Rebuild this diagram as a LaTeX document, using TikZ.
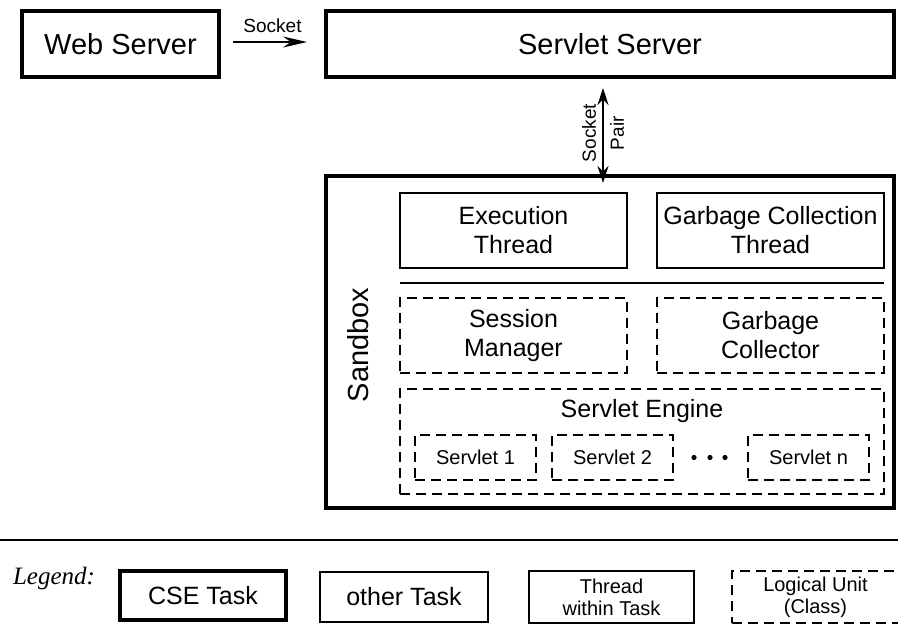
\documentclass[tikz,border=0pt]{standalone}
\usepackage{fontspec}
\setmainfont{Liberation Sans}
\newfontfamily\legendfont{Liberation Serif}
\usetikzlibrary{arrows.meta}

\begin{document}
\begin{tikzpicture}[x=1pt, y=-1pt,
    cse/.style={draw, rectangle, line width=4pt, align=center},
    othertask/.style={draw, rectangle, line width=2pt, align=center},
    thread/.style={draw, rectangle, line width=1.2pt, align=center},
    logical/.style={draw, rectangle, line width=1.2pt, dash pattern=on 10pt off 6pt, align=center},
    bigtext/.style={font=\fontsize{29}{34}\selectfont},
    midtext/.style={font=\fontsize{25}{29}\selectfont},
    smalltext/.style={font=\fontsize{20}{22}\selectfont},
    socktext/.style={font=\fontsize{19}{28}\selectfont},
  ]
  \useasboundingbox (0,0) rectangle (898,624);

  % Tasks
  \node[cse, bigtext, minimum width=197pt, minimum height=66pt] (web) at (120.5,44) {Web Server};
  \node[cse, bigtext, minimum width=568pt, minimum height=66pt] (server) at (610,44) {Servlet Server};
  \node[cse, minimum width=568pt, minimum height=332pt] (sandbox) at (610,342) {};
  \node[bigtext, rotate=90] (sandboxlabel) at (358,345) {Sandbox};

  % Sockets
  \draw[line width=1.2pt, -{Stealth[length=24pt, width=11pt]}, shorten <=12pt, shorten >=17pt]
    ([yshift=2pt]web.east) -- node[socktext, above=7pt, inner sep=2pt] (socklabel) {Socket} ([yshift=2pt]server.west);
  \draw[line width=1.2pt, {Stealth[length=17pt, width=11pt]}-{Stealth[length=17pt, width=11pt]},
    shorten <=9pt, shorten >=-9pt]
    ([xshift=-7pt]server.south) -- node[socktext, pos=0.57, rotate=90, align=center] (pairlabel) {Socket\\Pair}
    ([xshift=-7pt]sandbox.north);

  % Threads
  \node[thread, midtext, minimum width=227pt, minimum height=75pt] (exec) at (513.5,230.5) {Execution\\Thread};
  \node[thread, midtext, minimum width=227pt, minimum height=75pt] (gcthread) at (770.5,230.5) {Garbage Collection\\Thread};
  \draw[line width=1.2pt] (400,283) -- (884,283);

  % Logical units
  \node[logical, midtext, minimum width=227pt, minimum height=75pt] (session) at (513.5,335.5) {Session\\Manager};
  \node[logical, midtext, minimum width=227pt, minimum height=75pt] (collector) at (770.5,335.5) {Garbage\\Collector};
  \node[logical, minimum width=484pt, minimum height=105pt] (engine) at (642,441.5) {};
  \node[midtext] (enginelabel) at (642,411) {Servlet Engine};
  \node[logical, smalltext, minimum width=121pt, minimum height=45pt] (servlet1) at (475.5,457.5) {Servlet 1};
  \node[logical, smalltext, minimum width=121pt, minimum height=45pt] (servlet2) at (612.5,457.5) {Servlet 2};
  \node[logical, smalltext, minimum width=121pt, minimum height=45pt] (servletn) at (808.5,457.5) {Servlet n};
  \foreach \x in {694,710,725}
    \fill (\x,457.5) circle (2.6pt);

  % Legend
  \draw[line width=1.2pt] (0,540) -- (898,540);
  \node[font=\legendfont\itshape\fontsize{25}{29}\selectfont] (legend) at (54,578) {Legend:};
  \node[cse, midtext, minimum width=166pt, minimum height=49pt] (legcse) at (203,595.5) {CSE Task};
  \node[othertask, midtext, minimum width=168pt, minimum height=50pt] (legother) at (404,597) {other Task};
  \node[thread, smalltext, minimum width=165pt, minimum height=52pt] (legthread) at (611.5,597) {Thread\\within Task};
  \node[logical, smalltext, minimum width=167pt, minimum height=52pt] (legunit) at (815.5,597) {Logical Unit\\(Class)};
\end{tikzpicture}
\end{document}
